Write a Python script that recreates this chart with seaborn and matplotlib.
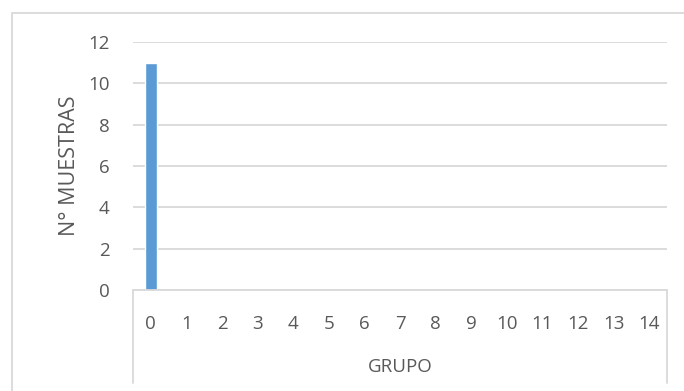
import matplotlib
matplotlib.use("Agg")
import matplotlib.pyplot as plt
import seaborn as sns
import pandas as pd
from matplotlib.patches import Rectangle
from matplotlib.lines import Line2D

grupos = [str(i) for i in range(15)]
muestras = [11, 0, 0, 0, 0, 0, 0, 0, 0, 0, 0, 0, 0, 0, 0]
y_ticks = [0, 2, 4, 6, 8, 10, 12]

sns.set_theme(style="white")
plt.rcParams["font.family"] = ["Open Sans", "DejaVu Sans"]

TEXT = "#595959"
GRID = "#D9D9D9"
BAR = "#5B9BD5"

df = pd.DataFrame({"GRUPO": grupos, "N° MUESTRAS": muestras})

fig = plt.figure(figsize=(6.84, 3.91), dpi=100)
ax = fig.add_axes([133 / 684, 1 - 290 / 391, (667 - 133) / 684, (290 - 42) / 391])

sns.barplot(data=df, x="GRUPO", y="N° MUESTRAS", order=grupos, color=BAR,
            width=0.34, saturation=1, ax=ax)

ax.set_ylim(0, 12)
ax.set_xlim(-0.5, len(grupos) - 0.5)
ax.set_yticks(y_ticks)
ax.yaxis.grid(True, color=GRID, linewidth=1.3)
ax.set_axisbelow(True)
for s in ["top", "right", "left"]:
    ax.spines[s].set_visible(False)
ax.spines["bottom"].set_color(GRID)
ax.spines["bottom"].set_linewidth(1.3)

ax.tick_params(axis="both", length=0, labelsize=13.5, labelcolor=TEXT)
ax.tick_params(axis="x", pad=18)
ax.tick_params(axis="y", pad=17)

ax.set_ylabel("N° MUESTRAS", fontsize=15.5, color=TEXT, labelpad=6)
ax.set_xlabel("")

# category axis frame below the plot
for xf in (0, 1):
    ax.add_line(Line2D([xf, xf], [0, -93 / 248], transform=ax.transAxes,
                       color=GRID, linewidth=1.3, clip_on=False))
ax.text(0.5, -77 / 248, "GRUPO", transform=ax.transAxes, ha="center",
        va="center", fontsize=13.5, color=TEXT)

# chart area border
fig.add_artist(Rectangle((12 / 684, -0.1), 1.0, 1 - 12.5 / 391 + 0.1,
                         transform=fig.transFigure, fill=False,
                         edgecolor=GRID, linewidth=1.3))

fig.savefig("out.png", dpi=100)
